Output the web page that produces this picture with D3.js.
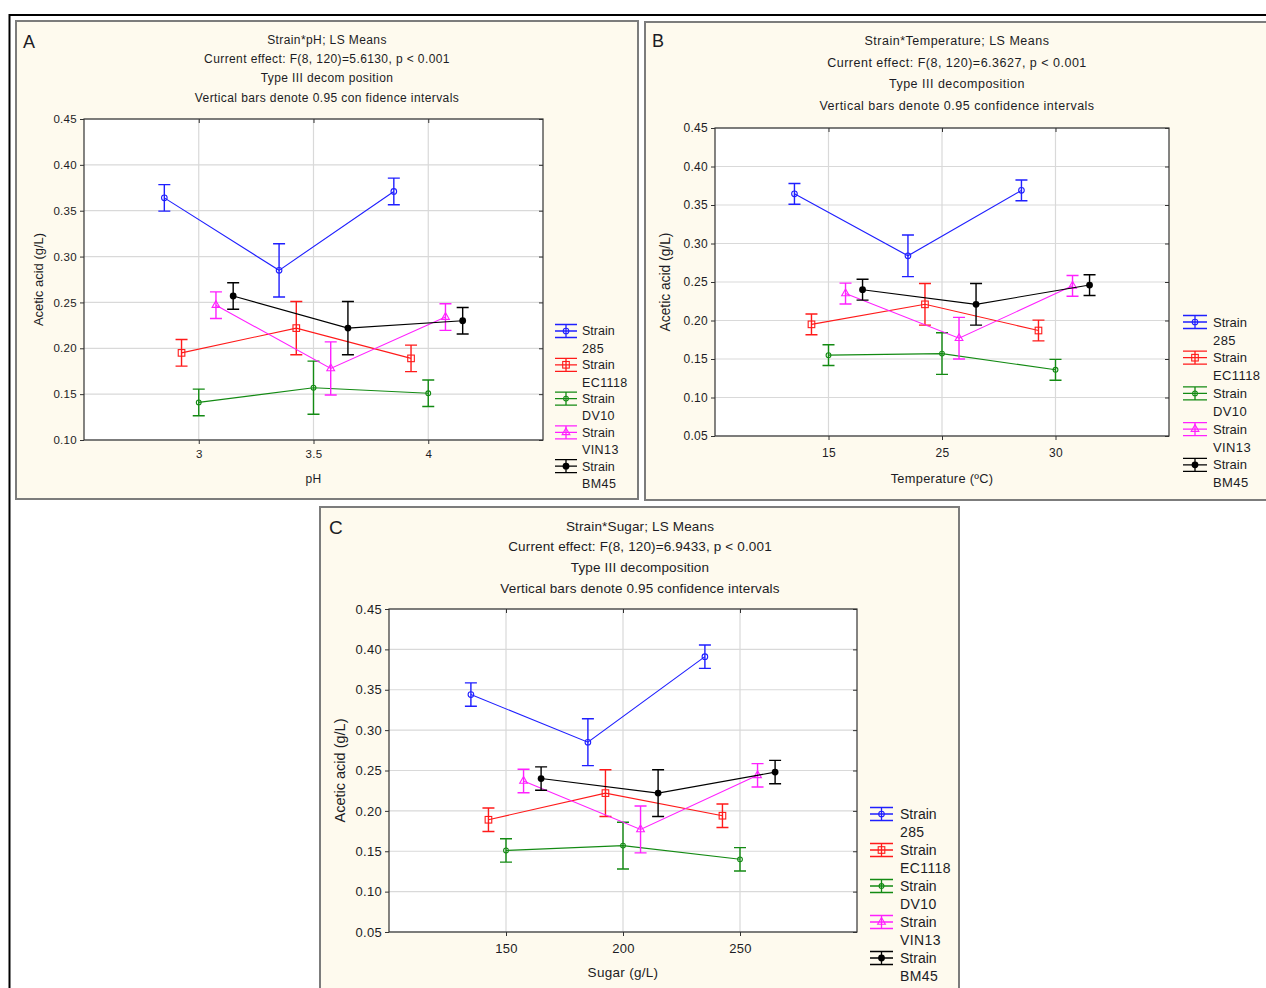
<!DOCTYPE html>
<html>
<head>
<meta charset="utf-8">
<script src="https://cdn.jsdelivr.net/npm/d3@7"></script>
<style>
  html, body { margin: 0; padding: 0; background: #ffffff; }
  svg { display: block; }
  text { font-family: "Liberation Sans", Arial, sans-serif; fill: #1c1c24; }
</style>
</head>
<body>
<svg id="fig" width="1266" height="988"></svg>
<script>
// ---- data ----------------------------------------------------------------
const strainNames = ["285", "EC1118", "DV10", "VIN13", "BM45"];
const strainColors = ["#1f1fff", "#ff1a1a", "#138a13", "#ff20ff", "#000000"];
const strainMarkers = ["circle", "square", "smallCircle", "triangle", "dot"];

// Panel A: acetic acid by pH
const phLevels = ["3", "3.5", "4"];
const phMeans = [
  [0.364, 0.285, 0.371],
  [0.195, 0.222, 0.189],
  [0.141, 0.157, 0.151],
  [0.247, 0.178, 0.234],
  [0.257, 0.222, 0.230]
];
const phCI = [
  [0.0145, 0.029, 0.0145],
  [0.0145, 0.029, 0.0145],
  [0.0145, 0.029, 0.0145],
  [0.0145, 0.029, 0.0145],
  [0.0145, 0.029, 0.0145]
];

// Panel B: acetic acid by temperature
const tempLevels = ["15", "25", "30"];
const tempMeans = [
  [0.3645, 0.284, 0.369],
  [0.195, 0.221, 0.187],
  [0.155, 0.157, 0.136],
  [0.235, 0.177, 0.245],
  [0.240, 0.221, 0.246]
];
const tempCI = [
  [0.0135, 0.027, 0.0135],
  [0.0135, 0.027, 0.0135],
  [0.0135, 0.027, 0.0135],
  [0.0135, 0.027, 0.0135],
  [0.0135, 0.027, 0.0135]
];

// Panel C: acetic acid by sugar
const sugarLevels = ["150", "200", "250"];
const sugarMeans = [
  [0.344, 0.285, 0.391],
  [0.189, 0.222, 0.194],
  [0.151, 0.157, 0.140],
  [0.237, 0.177, 0.244],
  [0.240, 0.222, 0.248]
];
const sugarCI = [
  [0.0145, 0.029, 0.0145],
  [0.0145, 0.029, 0.0145],
  [0.0145, 0.029, 0.0145],
  [0.0145, 0.029, 0.0145],
  [0.0145, 0.029, 0.0145]
];

const ticksA = [0.10, 0.15, 0.20, 0.25, 0.30, 0.35, 0.40, 0.45];
const ticksBC = [0.05, 0.10, 0.15, 0.20, 0.25, 0.30, 0.35, 0.40, 0.45];

const titlesA = ["Strain*pH; LS Means", "Current effect: F(8, 120)=5.6130, p < 0.001",
  "Type III decom position", "Vertical bars denote 0.95 con fidence intervals"];
const titlesB = ["Strain*Temperature; LS Means", "Current effect: F(8, 120)=6.3627, p < 0.001",
  "Type III decomposition", "Vertical bars denote 0.95 confidence intervals"];
const titlesC = ["Strain*Sugar; LS Means", "Current effect: F(8, 120)=6.9433, p < 0.001",
  "Type III decomposition", "Vertical bars denote 0.95 confidence intervals"];

// horizontal dodge of each strain, as a fraction of the category step
const dodge = [-0.3, -0.15, 0, 0.15, 0.3];

// ---- drawing -------------------------------------------------------------
const svg = d3.select("#fig");

// outer figure frame
svg.append("path")
  .attr("d", "M9.5,1000 V15 H1275")
  .attr("fill", "none").attr("stroke", "#000").attr("stroke-width", 2);

function drawMarker(g, type, color, cx, cy) {
  if (type === "circle") {
    g.append("circle").attr("cx", cx).attr("cy", cy).attr("r", 2.8)
      .attr("fill", "none").attr("stroke", color).attr("stroke-width", 1.1);
  } else if (type === "smallCircle") {
    g.append("circle").attr("cx", cx).attr("cy", cy).attr("r", 2.4)
      .attr("fill", "none").attr("stroke", color).attr("stroke-width", 1.1);
  } else if (type === "square") {
    g.append("rect").attr("x", cx - 3.3).attr("y", cy - 3.3).attr("width", 6.6).attr("height", 6.6)
      .attr("fill", "none").attr("stroke", color).attr("stroke-width", 1.1);
  } else if (type === "triangle") {
    g.append("path").attr("d", d3.symbol(d3.symbolTriangle, 26)())
      .attr("transform", `translate(${cx},${cy})`)
      .attr("fill", "none").attr("stroke", color).attr("stroke-width", 1.1);
  } else {
    g.append("circle").attr("cx", cx).attr("cy", cy).attr("r", 3.4).attr("fill", color);
  }
}

function drawPanel(cfg) {
  const g = svg.append("g");

  // panel background
  g.append("rect")
    .attr("x", cfg.box.x).attr("y", cfg.box.y).attr("width", cfg.box.w).attr("height", cfg.box.h)
    .attr("fill", "#fefaee").attr("stroke", "#7c7c7c").attr("stroke-width", 2);

  g.append("text").attr("x", cfg.letter.x).attr("y", cfg.letter.y)
    .attr("font-size", cfg.letter.size).text(cfg.letter.text);

  cfg.titles.forEach((t, i) => {
    g.append("text").attr("x", cfg.titleX).attr("y", cfg.titleY[i])
      .attr("dy", "0.35em").attr("text-anchor", "middle")
      .attr("font-size", cfg.titleSize).attr("letter-spacing", cfg.titleSpacing).text(t);
  });

  const p = cfg.plot;
  const x = d3.scalePoint().domain(cfg.levels).range([p.l, p.r]).padding(1);
  const y = d3.scaleLinear().domain(cfg.yDomain).range([p.b, p.t]);
  const step = x.step();

  // plot area
  g.append("rect").attr("x", p.l).attr("y", p.t).attr("width", p.r - p.l).attr("height", p.b - p.t)
    .attr("fill", "#ffffff");

  // grid
  g.append("g").selectAll("line").data(cfg.yTicks).join("line")
    .attr("x1", p.l).attr("x2", p.r).attr("y1", d => y(d)).attr("y2", d => y(d))
    .attr("stroke", "#d9d9d9").attr("stroke-width", 1.2);
  g.append("g").selectAll("line").data(cfg.levels).join("line")
    .attr("x1", d => x(d)).attr("x2", d => x(d)).attr("y1", p.t).attr("y2", p.b)
    .attr("stroke", "#d9d9d9").attr("stroke-width", 1.2);

  // axes
  const yAxis = d3.axisLeft(y).tickValues(cfg.yTicks).tickFormat(d3.format(".2f")).tickSize(4).tickPadding(3);
  const ya = g.append("g").attr("transform", `translate(${p.l},0)`).call(yAxis);
  const xAxis = d3.axisBottom(x).tickSize(4).tickPadding(cfg.xTickPad);
  const xa = g.append("g").attr("transform", `translate(0,${p.b})`).call(xAxis);
  const yr = g.append("g").attr("transform", `translate(${p.r},0)`)
    .call(d3.axisLeft(y).tickValues(cfg.yTicks).tickSize(4).tickFormat(""));
  const xt = g.append("g").attr("transform", `translate(0,${p.t})`)
    .call(d3.axisBottom(x).tickSize(4).tickFormat(""));
  [ya, xa, yr, xt].forEach(a => {
    a.select(".domain").remove();
    a.selectAll(".tick line").attr("stroke", "#333");
    a.selectAll("text").attr("font-size", cfg.tickSize).attr("fill", "#1c1c24")
      .attr("letter-spacing", 0.3)
      .attr("font-family", "'Liberation Sans', Arial, sans-serif");
  });

  g.append("rect").attr("x", p.l).attr("y", p.t).attr("width", p.r - p.l).attr("height", p.b - p.t)
    .attr("fill", "none").attr("stroke", "#333").attr("stroke-width", 1.2);

  g.append("text").attr("transform", `translate(${cfg.yLabelX},${(p.t + p.b) / 2}) rotate(-90)`)
    .attr("text-anchor", "middle").attr("dy", "0.35em").attr("font-size", cfg.yLabelSize)
    .text("Acetic acid (g/L)");
  g.append("text").attr("x", (p.l + p.r) / 2).attr("y", cfg.xLabelY).attr("dy", "0.35em")
    .attr("text-anchor", "middle").attr("font-size", cfg.xLabelSize)
    .attr("letter-spacing", 0.3).text(cfg.xLabel);

  // series
  const line = d3.line().x(d => d[0]).y(d => d[1]);
  cfg.means.forEach((row, s) => {
    const color = strainColors[s];
    const pts = row.map((m, i) => [x(cfg.levels[i]) + dodge[s] * step, y(m), cfg.ci[s][i], m]);
    g.append("path").attr("d", line(pts)).attr("fill", "none")
      .attr("stroke", color).attr("stroke-width", 1.1);
    pts.forEach(([px, py, ci, m]) => {
      const y1 = y(m + ci), y2 = y(m - ci), cw = 6;
      g.append("path")
        .attr("d", `M${px},${y1}V${y2}M${px - cw},${y1}H${px + cw}M${px - cw},${y2}H${px + cw}`)
        .attr("fill", "none").attr("stroke", color).attr("stroke-width", 1.4);
      drawMarker(g, strainMarkers[s], color, px, py);
    });
  });

  // legend
  const L = cfg.legend;
  strainNames.forEach((name, s) => {
    const cy = L.y0 + s * L.rowH;
    const color = strainColors[s];
    const x0 = L.symX, x1 = L.symX + L.symW, xm = (x0 + x1) / 2;
    g.append("path")
      .attr("d", `M${x0},${cy - 6.5}H${x1}M${x0},${cy}H${x1}M${x0},${cy + 6.5}H${x1}M${xm},${cy - 6.5}V${cy + 6.5}`)
      .attr("fill", "none").attr("stroke", color).attr("stroke-width", 1.3);
    drawMarker(g, strainMarkers[s], color, xm, cy);
    g.append("text").attr("x", L.textX).attr("y", cy).attr("dy", "0.35em")
      .attr("font-size", L.size).text("Strain");
    g.append("text").attr("x", L.textX).attr("y", cy + L.line2).attr("dy", "0.35em")
      .attr("font-size", L.size).attr("letter-spacing", 0.4).text(name);
  });
}

drawPanel({
  box: { x: 16, y: 21, w: 622, h: 478 },
  letter: { x: 23, y: 48, size: 18, text: "A" },
  titles: titlesA, titleX: 327, titleY: [40, 59, 78, 98], titleSize: 12, titleSpacing: 0.4,
  plot: { l: 84, t: 119, r: 543, b: 440 },
  levels: phLevels, means: phMeans, ci: phCI,
  yDomain: [0.10, 0.45], yTicks: ticksA, tickSize: 11.5, xTickPad: 6,
  yLabelX: 38, xLabelY: 479, xLabel: "pH", yLabelSize: 13, xLabelSize: 12,
  legend: { symX: 555, symW: 22, textX: 582, y0: 331, rowH: 33.8, line2: 17.5, size: 12.5 }
});

drawPanel({
  box: { x: 645, y: 22, w: 640, h: 478 },
  letter: { x: 652, y: 47, size: 18, text: "B" },
  titles: titlesB, titleX: 957, titleY: [41, 63, 84, 106], titleSize: 12.5, titleSpacing: 0.5,
  plot: { l: 715, t: 128, r: 1169, b: 436 },
  levels: tempLevels, means: tempMeans, ci: tempCI,
  yDomain: [0.05, 0.45], yTicks: ticksBC, tickSize: 12, xTickPad: 8,
  yLabelX: 665, xLabelY: 479, xLabel: "Temperature (ºC)", yLabelSize: 13.8, xLabelSize: 12.8,
  legend: { symX: 1183, symW: 24, textX: 1213, y0: 322, rowH: 35.7, line2: 18, size: 13 }
});

drawPanel({
  box: { x: 320, y: 507, w: 639, h: 500 },
  letter: { x: 329, y: 534, size: 19, text: "C" },
  titles: titlesC, titleX: 640, titleY: [526, 546, 567, 588], titleSize: 13.5, titleSpacing: 0.15,
  plot: { l: 389, t: 609, r: 857, b: 932 },
  levels: sugarLevels, means: sugarMeans, ci: sugarCI,
  yDomain: [0.05, 0.45], yTicks: ticksBC, tickSize: 13, xTickPad: 8,
  yLabelX: 340, xLabelY: 972, xLabel: "Sugar (g/L)", yLabelSize: 14.5, xLabelSize: 13.5,
  legend: { symX: 870, symW: 23, textX: 900, y0: 814, rowH: 36, line2: 18, size: 14 }
});
</script>
</body>
</html>
